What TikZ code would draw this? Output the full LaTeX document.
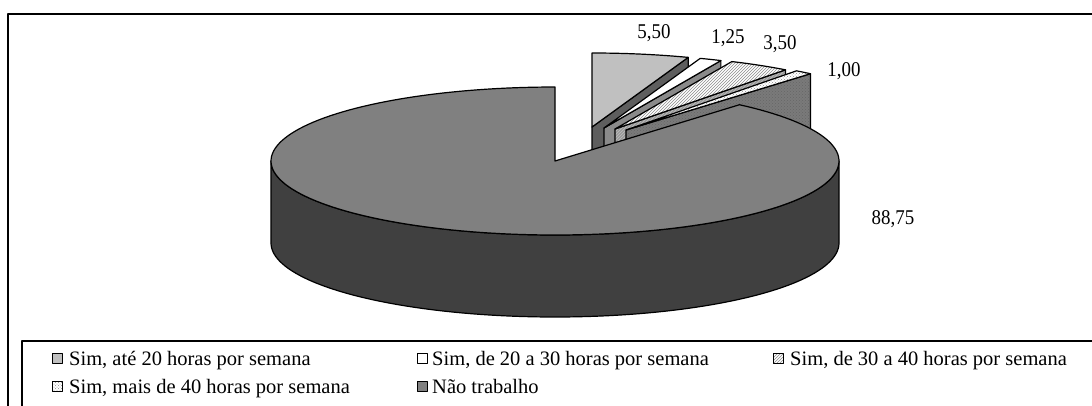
\documentclass[tikz,border=0pt]{standalone}
\usepackage{fontspec}
\setmainfont{Liberation Serif}
\newfontfamily\narrowserif[FakeStretch=0.9]{Liberation Serif}
\usetikzlibrary{patterns}
\definecolor{pietop}{HTML}{808080}
\definecolor{pieside}{HTML}{404040}
\definecolor{sliceA}{HTML}{C0C0C0}
\definecolor{sliceAside}{HTML}{5E5E5E}
\definecolor{sliceBside}{HTML}{8A8A8A}
\definecolor{sliceCside}{HTML}{9A9A9A}
\definecolor{sliceDside}{HTML}{7A7A7A}
\newcommand{\pieslice}[6]{%
  % #1 cx, #2 cy, #3 start angle, #4 end angle, #5 top style, #6 side style
  \path[#6, edge] (#1,#2) -- ({#1+284*cos(#4)},{#2-74*sin(#4)}) -- ({#1+284*cos(#4)},{#2+82-74*sin(#4)}) -- (#1,{#2+82}) -- cycle;
  \path[#5, edge] (#1,#2) -- plot[domain=#3:#4, samples=25] ({#1+284*cos(\x)},{#2-74*sin(\x)}) -- cycle;
}
\begin{document}
\begin{tikzpicture}[x=1pt, y=-1pt, line join=round,
  edge/.style={draw=black, line width=1.2pt},
  lbl/.style={font=\narrowserif\fontsize{21}{21}\selectfont, inner sep=0pt, anchor=base},
  legtext/.style={font=\fontsize{20.5}{20.5}\selectfont, inner sep=0pt, anchor=base west},
  legmark/.style={draw=black, line width=0.9pt},
  hatchfill/.style={preaction={fill=white}, pattern=north east lines, pattern color=black!45},
  hatchside/.style={preaction={fill=sliceCside}, pattern=north east lines, pattern color=black!25},
  dotfill/.style={preaction={fill=white}, pattern=crosshatch dots, pattern color=black!45},
  dotside/.style={preaction={fill=sliceDside}, pattern=crosshatch dots, pattern color=black!60}]
\useasboundingbox (0,0) rectangle (1092,405);
\clip (0,0) rectangle (1092,405);
\fill[white] (0,0) rectangle (1092,405);
% frames
\draw[line width=2pt] (8,14) rectangle (1120,440);
\draw[line width=1.4pt] (22,341) rectangle (1120,440);
% small (exploded) slices, back to front
\pieslice{592}{127}{90}{70.2}{fill=sliceA}{fill=sliceAside}
\pieslice{604}{128}{70.2}{65.7}{fill=white}{fill=sliceBside}
\pieslice{615}{129}{65.7}{53.1}{hatchfill}{hatchside}
\pieslice{626}{130}{53.1}{49.5}{dotfill}{dotside}
% large slice: side then top
\path[fill=pieside, edge] plot[domain=180:360, samples=90] ({555+284*cos(\x)},{161-74*sin(\x)})
  -- plot[domain=360:180, samples=90] ({555+284*cos(\x)},{243-74*sin(\x)}) -- cycle;
\path[fill=pietop, edge] (555,161) -- plot[domain=90:409.5, samples=160] ({555+284*cos(\x)},{161-74*sin(\x)}) -- cycle;
% value labels
\node[lbl] (v1) at (654,38) {5,50};
\node[lbl] (v2) at (728,43) {1,25};
\node[lbl] (v3) at (780,49) {3,50};
\node[lbl] (v4) at (844,76) {1,00};
\node[lbl] (v5) at (893,224) {88,75};
% legend
\draw[legmark, fill=sliceA] (52,353) rectangle (62,363);
\node[legtext] (l1) at (69,365) {Sim, até 20 horas por semana};
\draw[legmark, fill=white] (417,353) rectangle (427,363);
\node[legtext] (l2) at (432,365) {Sim, de 20 a 30 horas por semana};
\draw[legmark, hatchfill] (773,353) rectangle (783,363);
\node[legtext] (l3) at (790,365) {Sim, de 30 a 40 horas por semana};
\draw[legmark, dotfill] (52,381) rectangle (62,391);
\node[legtext] (l4) at (69,393) {Sim, mais de 40 horas por semana};
\draw[legmark, fill=pietop] (417,381) rectangle (427,391);
\node[legtext] (l5) at (432,393) {Não trabalho};
\end{tikzpicture}
\end{document}
